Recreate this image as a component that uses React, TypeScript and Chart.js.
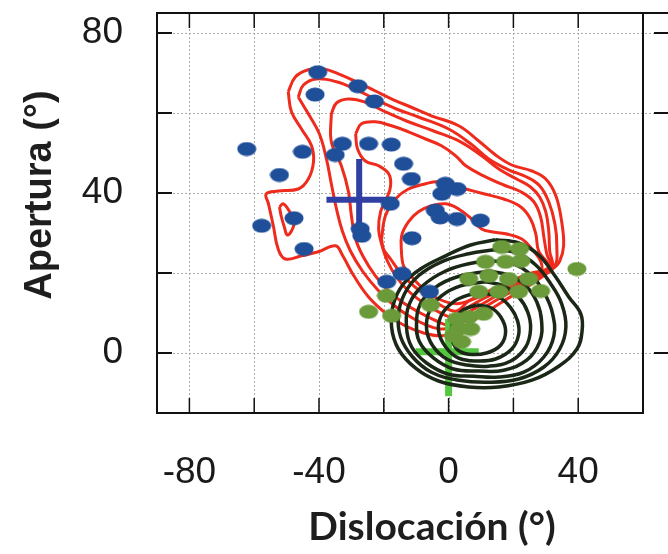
import React, { useEffect, useRef } from "react";
import { Chart, registerables } from "chart.js";

Chart.register(...registerables);

type P = [number, number];

// ---------- axes ----------
const X_MIN = -90;
const X_MAX = 60;
const Y_MIN = -15;
const Y_MAX = 85;
const X_GRID = [-80, -60, -40, -20, 0, 20, 40];
const Y_GRID = [0, 20, 40, 60, 80];
const X_LABELS = [-80, -40, 0, 40];
const Y_LABELS = [0, 40, 80];
const X_TITLE = "Dislocación (°)";
const Y_TITLE = "Apertura (°)";

// ---------- scatter points ----------
const BLUE_POINTS: P[] = [
  [-40.4, 70.2], [-41.2, 64.6], [-28.0, 66.7], [-22.9, 62.9], [-62.3, 51.0],
  [-45.1, 50.3], [-52.2, 44.5], [-32.8, 52.3], [-35.0, 49.5], [-24.7, 52.3],
  [-17.7, 52.1], [-13.9, 47.3], [-11.5, 43.5], [-1.0, 42.3], [2.6, 41.0],
  [-2.1, 39.8], [-18.0, 37.3], [-4.1, 35.6], [-2.6, 33.9], [2.6, 33.5],
  [9.8, 33.1], [-57.7, 31.8], [-47.7, 33.7], [-27.3, 31.0], [-26.8, 29.3],
  [-11.3, 28.7], [-44.6, 26.0], [-14.4, 19.8], [-19.1, 17.8], [-5.9, 15.3],
];

const GREEN_POINTS: P[] = [
  [39.6, 21.0], [-19.2, 14.3], [-24.7, 10.3], [-17.6, 9.3], [-5.6, 12.0],
  [16.4, 26.5], [21.9, 26.0], [11.4, 22.8], [17.6, 22.8], [22.3, 23.0],
  [6.2, 18.5], [12.4, 19.3], [18.5, 18.5], [24.7, 18.5], [9.3, 15.3],
  [15.5, 15.3], [21.6, 15.3], [28.4, 15.5], [6.2, 9.0], [10.8, 9.8],
  [3.1, 6.0], [6.8, 6.0], [4.0, 2.8], [2.5, 8.5], [1.5, 4.3],
];

// ---------- mean crosses ----------
const BLUE_CROSS_H: P[] = [[-37.7, 38.3], [-16.4, 38.3]];
const BLUE_CROSS_V: P[] = [[-27.6, 48.5], [-27.6, 30.2]];
const GREEN_CROSS_H: P[] = [[-10.2, 0.3], [9.3, 0.3]];
const GREEN_CROSS_V: P[] = [[0, 8.5], [0, -10.8]];

// ---------- red density contours ----------
const RED_1: P[] = [
  [-49.5, 65.3], [-47.3, 69], [-43.3, 70.8], [-38.6, 71], [-34.0, 69.8], [-28.4, 67.8],
  [-22.6, 65.5], [-17.0, 63.3], [-11.7, 61.5], [-5.3, 59.3], [3.1, 56.8], [9.3, 53],
  [14.5, 49.5], [19.5, 47], [25.7, 45.5], [30.0, 43.5], [33.1, 39.3], [34.9, 32.8],
  [35.5, 26.8], [34.3, 23], [32.1, 21], [24.7, 16.8], [17.0, 13], [9.3, 9], [2.5, 5.5],
  [-2.2, 4.3], [-7.7, 5], [-13.9, 7], [-19.2, 9.8], [-24.7, 14], [-29.4, 19.5],
  [-32.8, 24.5], [-34.9, 26.8], [-40.2, 25.3], [-45.4, 24.3], [-50.4, 23.5], [-52.6, 26],
  [-54.1, 31.8], [-55.6, 37.3], [-56.3, 39.8], [-52.6, 40.5], [-46.4, 41], [-43.3, 43.5],
  [-41.7, 47.8], [-42.3, 51.8], [-45.4, 56], [-48.5, 60.3], [-49.5, 65.3],
];
const RED_2: P[] = [
  [-46.4, 64], [-44.8, 67], [-40.8, 68.5], [-34.6, 67.8], [-28.4, 65.8], [-22.3, 63.3],
  [-16.1, 61], [-9.3, 59], [0, 56], [6.8, 52.3], [12.4, 48.5], [18.5, 45.8], [24.1, 44],
  [28.1, 41.8], [30.9, 37.8], [32.8, 32.3], [33.4, 26.8], [32.5, 21.5], [24.7, 17.8],
  [16.4, 14], [8.7, 10.3], [2.5, 7.3], [-1.5, 6], [-6.2, 6.8], [-11.7, 9], [-17.0, 12],
  [-21.9, 15.8], [-26.6, 20.5], [-30.3, 25.5], [-32.8, 30.5], [-34.6, 36], [-36.2, 42.3],
  [-37.7, 48.5], [-39.9, 54.8], [-43.3, 59.8], [-46.4, 64],
];
const RED_3: P[] = [
  [-36.2, 59.8], [-34.6, 62.5], [-30.9, 63.5], [-26.0, 62.8], [-20.1, 60.5], [-13.0, 58],
  [-4.6, 55.5], [3.7, 52.8], [10.2, 49.3], [15.5, 46], [21.0, 43.5], [25.3, 41.5],
  [28.1, 39], [30.0, 35.3], [30.9, 30.5], [31.2, 25.5], [31.8, 21.5], [24.7, 18.5],
  [17.0, 15.3], [9.9, 12], [3.7, 9], [0, 7], [-3.7, 8], [-8.7, 10], [-13.9, 12.5],
  [-18.5, 15.5], [-22.6, 19.3], [-26.3, 24], [-28.7, 28.5], [-30.0, 34.3], [-30.9, 40.3],
  [-33.1, 46.8], [-36.2, 52.8], [-36.2, 59.8],
];
const RED_4: P[] = [
  [-28.7, 54.8], [-26.9, 57.3], [-22.6, 57.8], [-17.6, 56.8], [-12.4, 55.3], [-7.1, 53.5],
  [-2.2, 51.8], [2.2, 49.3], [5.3, 46.8], [10.8, 44.3], [17.0, 42], [22.3, 40.3],
  [26.3, 37.8], [28.4, 34], [29.4, 29], [30.3, 24.8], [31.5, 21.5], [25.3, 19.3],
  [18.5, 16.8], [12.4, 14.3], [6.8, 11.8], [1.5, 9], [-3.1, 10.3], [-7.7, 12.5],
  [-12.4, 15.5], [-16.1, 19], [-18.9, 23], [-20.7, 27.3], [-21.6, 31], [-21.0, 35.3],
  [-19.2, 38.5], [-17.9, 41.8], [-18.5, 44.8], [-21.6, 46.8], [-25.7, 48], [-28.1, 51],
  [-28.7, 54.8],
];
const RED_5: P[] = [
  [-20.7, 28.5], [-19.5, 34.3], [-16.4, 38.5], [-12.4, 41], [-7.1, 42.3], [-3.1, 42.8],
  [5.3, 41], [10.8, 39.8], [17.0, 38.5], [22.3, 36.5], [25.3, 33.5], [26.9, 29.8],
  [27.8, 25.5], [30.9, 21.5], [24.7, 19.8], [18.5, 17.8], [12.4, 15.5], [6.2, 13],
  [2.5, 10.5], [-1.5, 11.5], [-6.2, 14], [-10.8, 16.8], [-14.8, 20], [-17.9, 23.5],
  [-20.1, 26], [-20.7, 28.5],
];
const RED_6: P[] = [
  [-14.5, 24.3], [-14.5, 29.3], [-12.4, 32.8], [-9.3, 35.3], [-5.3, 36.8], [-0.9, 37.3],
  [3.1, 36], [7.1, 33.5], [10.2, 31], [13.3, 30.3], [17.6, 29.8], [22.6, 28.5],
  [25.7, 26], [28.7, 22.3], [27.8, 19.8], [21.6, 17.8], [13.9, 15.5], [7.7, 13.5],
  [2.5, 12.3], [-3.1, 13.5], [-7.7, 16], [-11.7, 19.3], [-13.9, 21.8], [-14.5, 24.3],
];
const RED_ISLAND: P[] = [
  [-52.2, 36.5], [-51.0, 37.3], [-49.2, 35.5], [-47.6, 33], [-48.5, 30.5], [-49.8, 29.5],
  [-50.7, 31.5], [-51.6, 34], [-52.2, 36.5],
];

// ---------- dark green density contours ----------
const DARK_1: P[] = [
  [14.5, 28.3], [21.6, 27.5], [27.8, 24.5], [32.8, 19.3], [37.1, 14], [40.8, 9.8],
  [41.2, 5.5], [39.6, 1], [34.0, -3.3], [25.7, -6.8], [15.5, -8.5], [6.2, -8.5],
  [-3.1, -7], [-10.2, -3.8], [-15.5, 1], [-17.6, 6.5], [-17.0, 12.3], [-13.9, 17.3],
  [-8.7, 21], [-0.9, 24.3], [6.8, 27], [14.5, 28.3],
];
const DARK_2: P[] = [
  [14.2, 25.8], [21.0, 25], [26.9, 22], [31.5, 17.3], [34.9, 12.3], [36.2, 6.5],
  [34.3, 1], [29.4, -3.5], [21.6, -6.5], [12.4, -7.3], [3.1, -6.8], [-5.3, -4.8],
  [-11.1, -1], [-14.8, 4], [-15.5, 9.5], [-13.6, 14.8], [-9.3, 19.3], [-2.2, 22.8],
  [6.2, 24.8], [14.2, 25.8],
];
const DARK_3: P[] = [
  [13.3, 23], [20.1, 22.3], [25.7, 19.3], [29.7, 14.8], [32.1, 9.8], [32.5, 4.3],
  [29.4, -1], [23.2, -4.8], [15.5, -6], [7.7, -5.8], [0, -5.3], [-6.8, -2.5],
  [-11.4, 1.5], [-13.0, 6.5], [-12.1, 12.3], [-7.7, 17], [-0.9, 20.5], [6.2, 22.3],
  [13.3, 23],
];
const DARK_4: P[] = [
  [12.4, 20.5], [18.5, 19.5], [23.8, 16.8], [27.2, 12.8], [28.7, 8], [28.1, 2.8],
  [24.1, -1.8], [17.0, -4.3], [9.3, -4.5], [1.5, -4], [-4.6, -1.3], [-9.0, 2.8],
  [-9.9, 7.3], [-8.7, 12.3], [-4.3, 16.3], [2.5, 19], [12.4, 20.5],
];
const DARK_5: P[] = [
  [11.4, 17.8], [17.0, 16.8], [21.6, 14], [24.4, 10.3], [25.3, 6], [23.8, 1.5],
  [19.2, -2], [12.4, -3.3], [5.6, -3], [-0.6, -1.5], [-4.9, 1.8], [-6.8, 6],
  [-5.9, 10.5], [-2.2, 14.3], [3.7, 16.8], [11.4, 17.8],
];
const DARK_6: P[] = [
  [10.5, 15], [15.5, 14], [19.2, 11.3], [21.3, 8], [21.6, 4.5], [19.5, 1],
  [14.5, -1.5], [8.7, -2], [3.1, -1.3], [-0.9, 1.5], [-3.1, 5.5], [-2.2, 9.5],
  [1.5, 12.8], [6.2, 14.5], [10.5, 15],
];
const DARK_7: P[] = [
  [8.7, 12], [13.0, 11.3], [16.1, 9], [17.6, 5.5], [16.1, 2], [11.7, 0], [6.2, -0.3],
  [2.5, 1], [0.9, 4.3], [1.5, 8], [4.6, 10.8], [8.7, 12],
];

const RED_CONTOURS = [RED_1, RED_2, RED_3, RED_4, RED_5, RED_6, RED_ISLAND];
const DARK_CONTOURS = [DARK_1, DARK_2, DARK_3, DARK_4, DARK_5, DARK_6, DARK_7];

const RED = "#ee2b1c";
const DARK = "#1b2817";
const BLUE = "#1f4f99";
const OLIVE = "#6b9a3a";
const CROSS_BLUE = "#2f3fa2";
const CROSS_GREEN = "#55c640";

const toXY = (arr: P[]) => arr.map(([x, y]) => ({ x, y }));

function ellipseSprite(color: string): HTMLCanvasElement {
  const c = document.createElement("canvas");
  c.width = 20;
  c.height = 15;
  const g = c.getContext("2d")!;
  g.fillStyle = color;
  g.beginPath();
  g.ellipse(10, 7.5, 9.5, 7, 0, 0, Math.PI * 2);
  g.fill();
  return c;
}

const framePlugin = {
  id: "frame",
  beforeDatasetsDraw(chart: any) {
    const { ctx, chartArea: a, scales } = chart;
    ctx.save();
    ctx.strokeStyle = "#a9a9a9";
    ctx.lineWidth = 1;
    ctx.setLineDash([2, 2]);
    X_GRID.forEach((v) => {
      const px = Math.round(scales.x.getPixelForValue(v)) + 0.5;
      ctx.beginPath();
      ctx.moveTo(px, a.top);
      ctx.lineTo(px, a.bottom);
      ctx.stroke();
    });
    Y_GRID.forEach((v) => {
      const py = Math.round(scales.y.getPixelForValue(v)) + 0.5;
      ctx.beginPath();
      ctx.moveTo(a.left, py);
      ctx.lineTo(chart.width - 8, py);
      ctx.stroke();
    });
    ctx.restore();
  },
  afterDraw(chart: any) {
    const { ctx, chartArea: a, scales } = chart;
    ctx.save();
    ctx.strokeStyle = "#111";
    ctx.lineWidth = 2;
    ctx.setLineDash([]);
    ctx.strokeRect(a.left, a.top, a.right - a.left, a.bottom - a.top);
    ctx.beginPath();
    ctx.moveTo(a.right, a.top);
    ctx.lineTo(chart.width, a.top);
    ctx.stroke();
    const L = 15;
    ctx.lineWidth = 1.5;
    X_GRID.forEach((v) => {
      const px = scales.x.getPixelForValue(v);
      ctx.beginPath();
      ctx.moveTo(px, a.bottom);
      ctx.lineTo(px, a.bottom - L);
      ctx.moveTo(px, a.top);
      ctx.lineTo(px, a.top + L);
      ctx.stroke();
    });
    ctx.lineWidth = 2;
    Y_GRID.forEach((v) => {
      const py = scales.y.getPixelForValue(v);
      ctx.beginPath();
      ctx.moveTo(a.left, py);
      ctx.lineTo(a.left + L, py);
      ctx.moveTo(chart.width - 14, py);
      ctx.lineTo(chart.width, py);
      ctx.stroke();
    });
    // axis titles
    ctx.fillStyle = "#1e1e1e";
    ctx.font = "bold 39px Lato, 'Open Sans', sans-serif";
    ctx.textAlign = "center";
    ctx.textBaseline = "alphabetic";
    ctx.fillText(X_TITLE, 432, 540);
    ctx.translate(51, 195);
    ctx.rotate(-Math.PI / 2);
    ctx.font = "bold 38px 'Liberation Sans', Arial, sans-serif";
    ctx.fillText(Y_TITLE, 0, 0);
    ctx.restore();
  },
};

export default function App() {
  const ref = useRef<HTMLCanvasElement | null>(null);

  useEffect(() => {
    if (!ref.current) return;
    const lineDs = (arr: P[], color: string, width: number, order: number) => ({
      data: toXY(arr),
      showLine: true,
      borderColor: color,
      borderWidth: width,
      pointRadius: 0,
      tension: 0.4,
      fill: false,
      order,
    });
    const datasets: any[] = [
      ...RED_CONTOURS.map((c) => lineDs(c, RED, 3, 60)),
      lineDs(GREEN_CROSS_H, CROSS_GREEN, 7, 55),
      lineDs(GREEN_CROSS_V, CROSS_GREEN, 7, 55),
      ...DARK_CONTOURS.map((c) => lineDs(c, DARK, 3.5, 50)),
      lineDs(BLUE_CROSS_H, CROSS_BLUE, 6, 45),
      lineDs(BLUE_CROSS_V, CROSS_BLUE, 6, 45),
      {
        data: toXY(BLUE_POINTS),
        pointStyle: ellipseSprite(BLUE),
        pointRadius: 8,
        showLine: false,
        order: 40,
      },
      {
        data: toXY(GREEN_POINTS),
        pointStyle: ellipseSprite(OLIVE),
        pointRadius: 8,
        showLine: false,
        order: 30,
      },
    ];
    const tickFont = { family: "'Liberation Sans', Arial, sans-serif", size: 37 };
    const chart = new Chart(ref.current, {
      type: "scatter",
      data: { datasets },
      options: {
        responsive: false,
        animation: false,
        events: [],
        layout: { padding: { top: 13, right: 25, left: 0, bottom: 0 } },
        plugins: { legend: { display: false }, tooltip: { enabled: false } },
        scales: {
          x: {
            type: "linear",
            min: X_MIN,
            max: X_MAX,
            afterBuildTicks: (s: any) => {
              s.ticks = X_LABELS.map((v) => ({ value: v }));
            },
            afterFit: (s: any) => {
              s.height = 141;
              s.paddingLeft = 0;
              s.paddingRight = 0;
              s.paddingTop = 0;
              s.paddingBottom = 0;
            },
            ticks: {
              font: tickFont,
              color: "#1a1a1a",
              padding: 38,
              maxRotation: 0,
              autoSkip: false,
              callback: (v: any) => String(v),
            },
            grid: { display: false, drawTicks: false },
            border: { display: false },
          },
          y: {
            type: "linear",
            min: Y_MIN,
            max: Y_MAX,
            afterBuildTicks: (s: any) => {
              s.ticks = Y_LABELS.map((v) => ({ value: v }));
            },
            afterFit: (s: any) => {
              s.width = 157;
              s.paddingLeft = 0;
              s.paddingRight = 0;
              s.paddingTop = 0;
              s.paddingBottom = 0;
            },
            ticks: {
              font: tickFont,
              color: "#1a1a1a",
              padding: 34,
              autoSkip: false,
              callback: (v: any) => String(v),
            },
            grid: { display: false, drawTicks: false },
            border: { display: false },
          },
        },
      },
      plugins: [framePlugin],
    });
    return () => chart.destroy();
  }, []);

  return (
    <div style={{ position: "absolute", left: 0, top: 0, width: 668, height: 554, background: "#fff" }}>
      <canvas ref={ref} width={668} height={554} style={{ display: "block" }} />
    </div>
  );
}
